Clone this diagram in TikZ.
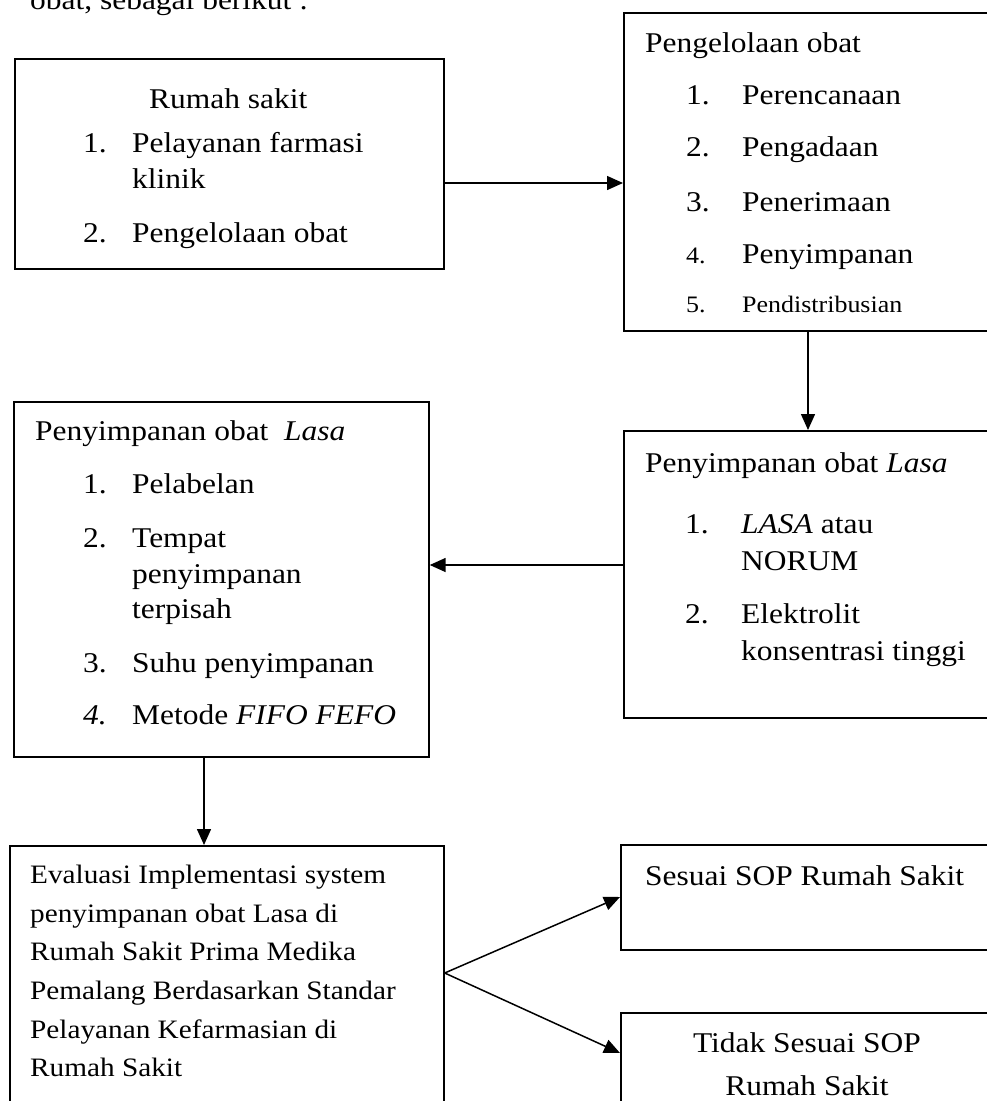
\documentclass[tikz,border=0pt]{standalone}
\usepackage{fontspec}
\setmainfont{Liberation Serif}[FakeStretch=1.1]
\usetikzlibrary{arrows.meta}
\begin{document}
\begin{tikzpicture}[x=1pt,y=-1pt,
 box/.style={draw, line width=1.7pt, anchor=north west, inner sep=0pt},
 txt/.style={anchor=base west, inner sep=0pt, font=\fontsize{28.6}{34}\selectfont},
 txtsm/.style={txt, font=\fontsize{26.6}{32}\selectfont},
 txtxs/.style={txt, font=\fontsize{23.6}{28}\selectfont},
 arr/.style={-{Triangle[length=16pt,width=14pt]}, line width=1.5pt}]
\useasboundingbox (0,0) rectangle (986,1101);
\fill[white] (0,0) rectangle (986,1101);

% boxes
\node[box, minimum width=429pt, minimum height=210pt] (b1) at (14,58) {};
\node[box, minimum width=400pt, minimum height=318pt] (b2) at (623,12) {};
\node[box, minimum width=415pt, minimum height=355pt] (b3) at (13,401) {};
\node[box, minimum width=400pt, minimum height=287pt] (b4) at (623,430) {};
\node[box, minimum width=434pt, minimum height=300pt] (b5) at (9,845) {};
\node[box, minimum width=400pt, minimum height=105pt] (b6) at (620,844) {};
\node[box, minimum width=400pt, minimum height=150pt] (b7) at (620,1012) {};

% top text (cut off)
\node[txt] (top) at (30,9) {obat, sebagai berikut :};

% box 1
\node[txt] (t1a) at (149,108) {Rumah sakit};
\node[txt] (t1b) at (83,152) {1.};
\node[txt] (t1c) at (132,152) {Pelayanan farmasi};
\node[txt] (t1d) at (132,188) {klinik};
\node[txt] (t1e) at (83,242) {2.};
\node[txt] (t1f) at (132,242) {Pengelolaan obat};

% box 2
\node[txt] (t2a) at (645,52) {Pengelolaan obat};
\node[txt] (t2b) at (686,104) {1.};
\node[txt] (t2c) at (742,104) {Perencanaan};
\node[txt] (t2d) at (686,156) {2.};
\node[txt] (t2e) at (742,156) {Pengadaan};
\node[txt] (t2f) at (686,211) {3.};
\node[txt] (t2g) at (742,211) {Penerimaan};
\node[txtxs] (t2h) at (686,263) {4.};
\node[txt] (t2i) at (742,263) {Penyimpanan};
\node[txtxs] (t2j) at (686,312) {5.};
\node[txtxs] (t2k) at (742,312) {Pendistribusian};

% box 3
\node[txt] (t3a) at (35,440) {Penyimpanan obat\ \ \textit{Lasa}};
\node[txt] (t3b) at (83,493) {1.};
\node[txt] (t3c) at (132,493) {Pelabelan};
\node[txt] (t3d) at (83,547) {2.};
\node[txt] (t3e) at (132,547) {Tempat};
\node[txt] (t3f) at (132,583) {penyimpanan};
\node[txt] (t3g) at (132,618) {terpisah};
\node[txt] (t3h) at (83,672) {3.};
\node[txt] (t3i) at (132,672) {Suhu penyimpanan};
\node[txt] (t3j) at (83,724) {\textit{4.}};
\node[txt] (t3k) at (132,724) {Metode \textit{FIFO FEFO}};

% box 4
\node[txt] (t4a) at (645,472) {Penyimpanan obat \textit{Lasa}};
\node[txt] (t4b) at (685,533) {1.};
\node[txt] (t4c) at (741,533) {\textit{LASA} atau};
\node[txt] (t4d) at (741,570) {NORUM};
\node[txt] (t4e) at (685,623) {2.};
\node[txt] (t4f) at (741,623) {Elektrolit};
\node[txt] (t4g) at (741,660) {konsentrasi tinggi};

% box 5
\node[txtsm] (t5a) at (30,883) {Evaluasi Implementasi system};
\node[txtsm] (t5b) at (30,922) {penyimpanan obat Lasa di};
\node[txtsm] (t5c) at (30,960) {Rumah Sakit Prima Medika};
\node[txtsm] (t5d) at (30,999) {Pemalang Berdasarkan Standar};
\node[txtsm] (t5e) at (30,1038) {Pelayanan Kefarmasian di};
\node[txtsm] (t5f) at (30,1076) {Rumah Sakit};

% box 6 and 7
\node[txt] (t6) at (645,885) {Sesuai SOP Rumah Sakit};
\node[txt, anchor=base] (t7a) at (807,1052) {Tidak Sesuai SOP};
\node[txt, anchor=base] (t7b) at (807,1095) {Rumah Sakit};

% connector coordinates
\coordinate (ya) at (0,183);
\coordinate (xb) at (808,0);
\coordinate (yc) at (0,565);
\coordinate (xd) at (204,0);
\coordinate (ye) at (0,973);
\coordinate (yf) at (0,897);
\coordinate (yg) at (0,1053);

\draw[arr] (b1.east |- ya) -- (b2.west |- ya);
\draw[arr] (b2.south -| xb) -- (b4.north -| xb);
\draw[arr] (b4.west |- yc) -- (b3.east |- yc);
\draw[arr] (b3.south -| xd) -- (b5.north -| xd);
\draw[arr] (b5.east |- ye) -- (b6.west |- yf);
\draw[arr] (b5.east |- ye) -- (b7.west |- yg);
\end{tikzpicture}
\end{document}
